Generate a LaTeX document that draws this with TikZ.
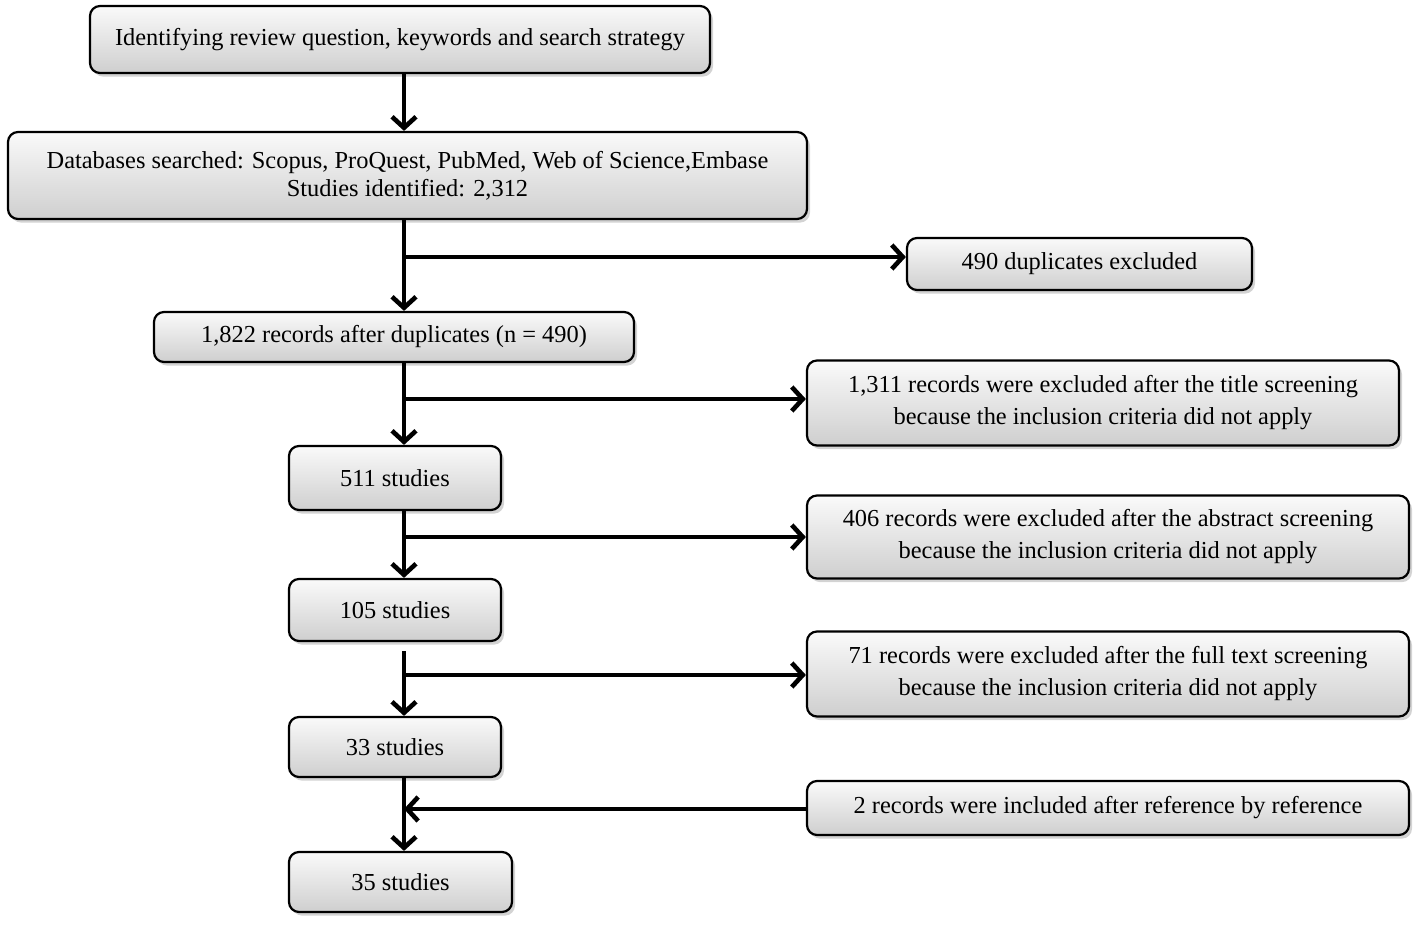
\documentclass[tikz,border=0pt]{standalone}
\usepackage{fontspec}
\setmainfont{Liberation Serif}
\usetikzlibrary{arrows.meta, positioning, shadows, calc}

\tikzset{
  flowbox/.style={draw=black, line width=1.1pt, rounded corners=5pt,
    top color=gray!4, bottom color=gray!38,
    drop shadow={shadow xshift=1.5pt, shadow yshift=-1.8pt, opacity=0.35},
    align=center, inner sep=0pt, font=\fontsize{12.2}{14}\selectfont},
  widelead/.style={font=\fontsize{12.2}{16}\selectfont},
  flowarrow/.style={line width=2.3pt,
    -{Straight Barb[length=5.5pt, width=12pt, line width=2.3pt]}}
}

\begin{document}
\begin{tikzpicture}[x=0.5pt, y=-0.5pt]
  \useasboundingbox (0,0) rectangle (1418,925);

  % boxes of the main column
  \node[flowbox, minimum width=310pt, minimum height=33.5pt] (ident) at (400,39.5)
    {Identifying review question, keywords and search strategy};
  \node[flowbox, minimum width=399.5pt, minimum height=43.5pt] (dbase) at (407.5,175.5)
    {Databases searched: Scopus, ProQuest, PubMed, Web of Science,Embase\\Studies identified: 2,312};
  \node[flowbox, minimum width=240pt, minimum height=25pt] (recs) at (394,337)
    {1,822 records after duplicates (n = 490)};
  \node[flowbox, minimum width=106pt, minimum height=32pt] (s511) at (395,478) {511 studies};
  \node[flowbox, minimum width=106pt, minimum height=31pt] (s105) at (395,610) {105 studies};
  \node[flowbox, minimum width=106pt, minimum height=30pt] (s33) at (395,747) {33 studies};
  \node[flowbox, minimum width=111.5pt, minimum height=30pt] (s35) at (400.5,882) {35 studies};

  % boxes on the right
  \node[flowbox, minimum width=172.5pt, minimum height=26pt] (dup) at (1079.5,264)
    {490 duplicates excluded};
  \node[flowbox, widelead, minimum width=296pt, minimum height=42.5pt] (ex1311) at (1103,403)
    {1,311 records were excluded after the title screening\\because the inclusion criteria did not apply};
  \node[flowbox, widelead, minimum width=301pt, minimum height=41.5pt] (ex406) at (1108,537)
    {406 records were excluded after the abstract screening\\because the inclusion criteria did not apply};
  \node[flowbox, widelead, minimum width=301pt, minimum height=42.5pt] (ex71) at (1108,674)
    {71 records were excluded after the full text screening\\because the inclusion criteria did not apply};
  \node[flowbox, minimum width=301pt, minimum height=27pt] (inc2) at (1108,808)
    {2 records were included after reference by reference};

  % spine and branch points
  \coordinate (spine) at (404,0);
  \coordinate (b1) at (404,257);
  \coordinate (b2) at (404,399);
  \coordinate (b3) at (404,537);
  \coordinate (b4) at (404,675);
  \coordinate (b5) at (404,809);

  \draw[flowarrow] (ident.south -| spine) -- (dbase.north -| spine);
  \draw[flowarrow] (dbase.south -| spine) -- (recs.north -| spine);
  \draw[flowarrow] (recs.south -| spine) -- (s511.north -| spine);
  \draw[flowarrow] (s511.south -| spine) -- (s105.north -| spine);
  \draw[flowarrow, shorten <=4.5pt] (s105.south -| spine) -- (s33.north -| spine);
  \draw[flowarrow] (s33.south -| spine) -- (s35.north -| spine);

  \draw[flowarrow] (b1) -- (b1 -| dup.west);
  \draw[flowarrow] (b2) -- (b2 -| ex1311.west);
  \draw[flowarrow] (b3) -- (b3 -| ex406.west);
  \draw[flowarrow] (b4) -- (b4 -| ex71.west);
  \draw[flowarrow] (b5 -| inc2.west) -- (b5);
\end{tikzpicture}
\end{document}
